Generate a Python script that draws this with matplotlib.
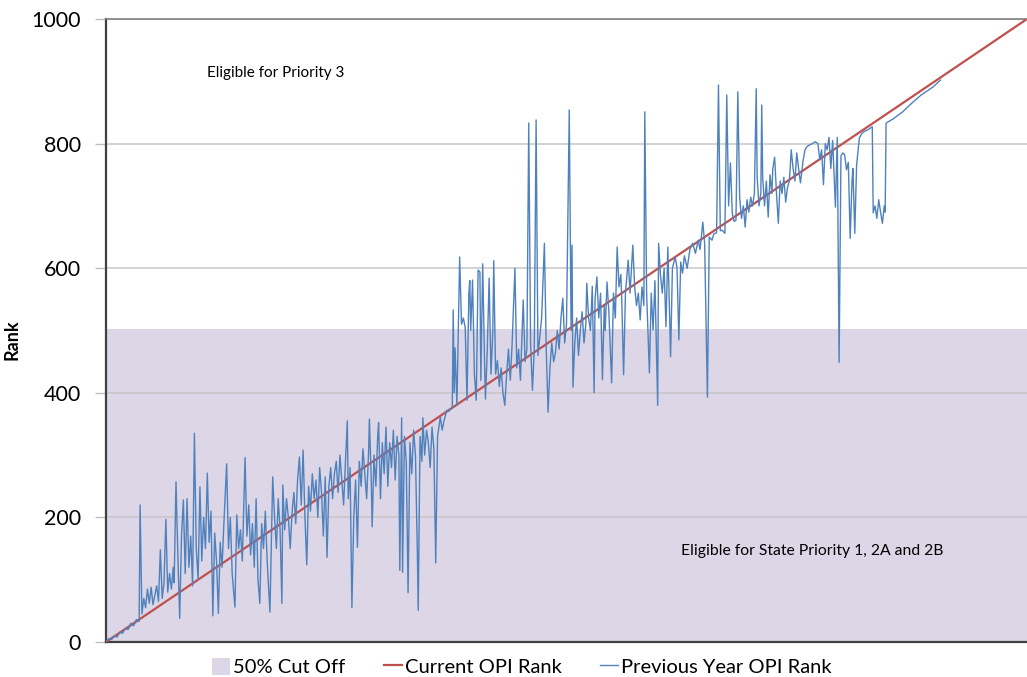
import matplotlib
matplotlib.use('Agg')
import matplotlib.pyplot as plt
from matplotlib.patches import Patch
from matplotlib.lines import Line2D

# 50% cut off level
cutoff_rank = 503
x_range = [0, 1000]

# current OPI rank (diagonal)
current_x = [0, 1000]
current_y = [0, 1000]

# previous year OPI rank (x = current rank)
prev_x = [0, 3, 6, 9, 12, 15, 18, 21, 24, 27, 30, 33, 36, 37, 39, 41, 43, 45, 47, 49,
          51, 53, 55, 57, 59, 61, 63, 65, 67, 69, 71, 73, 74, 76, 78, 80, 82, 84, 86, 88,
          90, 92, 94, 96, 98, 100, 102, 104, 106, 108, 110, 112, 114, 116, 118, 120, 122, 124, 126, 128,
          131, 133, 135, 137, 140, 142, 144, 146, 148, 151, 153, 155, 157, 159, 161, 163, 165, 167, 169, 171,
          173, 175, 178, 181, 183, 185, 187, 189, 191, 192, 194, 196, 198, 200, 202, 204, 206, 208, 210, 212,
          214, 216, 218, 220, 222, 224, 226, 228, 230, 232, 234, 236, 238, 240, 242, 244, 246, 248, 250, 252,
          254, 256, 258, 260, 262, 263, 265, 267, 269, 271, 273, 275, 277, 279, 281, 283, 285, 286, 288, 289,
          291, 293, 295, 296, 298, 300, 302, 304, 306, 308, 310, 312, 314, 316, 318, 319, 321, 322, 324, 326,
          328, 330, 332, 334, 336, 338, 339, 341, 343, 344, 346, 348, 350, 352, 354, 356, 358, 360, 363, 365,
          367, 370, 372, 374, 376, 377, 378, 379, 381, 384, 386, 388, 390, 392, 394, 395, 396, 398, 400, 402,
          404, 406, 407, 409, 411, 412, 414, 416, 418, 420, 421, 423, 425, 427, 429, 431, 433, 435, 437, 439,
          441, 444, 446, 448, 450, 453, 455, 457, 459, 461, 463, 465, 467, 469, 471, 473, 476, 478, 480, 482,
          484, 486, 488, 490, 492, 494, 496, 498, 500, 503, 505, 506, 507, 509, 511, 513, 515, 517, 519, 521,
          522, 524, 526, 528, 530, 531, 533, 535, 537, 539, 541, 542, 544, 546, 549, 551, 553, 555, 557, 559,
          560, 562, 564, 567, 569, 572, 574, 576, 578, 580, 582, 584, 585, 587, 590, 592, 594, 596, 599, 600,
          602, 604, 606, 608, 610, 611, 613, 615, 618, 620, 622, 624, 626, 628, 631, 634, 637, 640, 643, 645,
          648, 650, 653, 655, 658, 660, 663, 665, 667, 669, 672, 674, 676, 678, 680, 682, 684, 686, 688, 690,
          692, 694, 696, 698, 700, 702, 704, 706, 707, 709, 711, 712, 713, 715, 717, 719, 721, 723, 724, 726,
          728, 730, 732, 734, 736, 738, 740, 742, 744, 746, 748, 750, 752, 754, 757, 759, 761, 764, 767, 770,
          773, 775, 777, 779, 781, 783, 785, 787, 789, 792, 794, 796, 798, 800, 802, 804, 806, 808, 810, 811,
          813, 815, 818, 821, 824, 827, 830, 832, 833, 835, 837, 839, 841, 843, 845, 846, 847, 855, 865, 875,
          885, 898, 906]
prev_y = [2, 5, 4, 10, 8, 16, 14, 22, 20, 30, 26, 36, 33, 220, 45, 70, 55, 85, 62, 88,
          60, 75, 90, 65, 148, 70, 95, 197, 80, 110, 85, 120, 95, 257, 140, 38, 170, 228, 110, 230,
          120, 170, 90, 335, 150, 100, 249, 130, 200, 150, 271, 160, 210, 42, 175, 130, 46, 160, 120, 190,
          286, 150, 200, 110, 56, 204, 150, 180, 130, 296, 170, 220, 140, 190, 120, 230, 100, 62, 190, 150,
          210, 130, 48, 265, 200, 150, 230, 180, 62, 252, 180, 230, 200, 150, 207, 240, 190, 260, 297, 220,
          308, 200, 124, 250, 210, 270, 230, 260, 200, 280, 240, 170, 265, 136, 250, 280, 230, 270, 290, 240,
          300, 260, 220, 290, 355, 230, 280, 55, 200, 260, 152, 290, 250, 310, 270, 230, 300, 358, 260, 185,
          300, 250, 330, 352, 230, 320, 270, 345, 250, 320, 280, 340, 260, 330, 300, 115, 360, 112, 330, 290,
          79, 320, 270, 340, 300, 150, 51, 330, 290, 360, 300, 340, 320, 280, 345, 310, 127, 330, 361, 340,
          355, 372, 370, 374, 376, 533, 400, 472, 380, 618, 510, 520, 505, 388, 560, 580, 500, 581, 430, 388,
          597, 594, 420, 607, 450, 390, 470, 584, 430, 500, 612, 430, 452, 410, 440, 400, 380, 430, 470, 420,
          480, 600, 440, 470, 420, 549, 450, 470, 833, 480, 404, 470, 838, 460, 490, 520, 640, 470, 369, 440,
          480, 450, 464, 500, 470, 520, 552, 480, 510, 854, 500, 637, 409, 480, 520, 460, 500, 530, 480, 510,
          576, 520, 500, 571, 400, 550, 586, 520, 560, 421, 540, 500, 578, 530, 416, 560, 520, 634, 570, 590,
          550, 429, 560, 613, 560, 637, 570, 540, 560, 517, 570, 540, 851, 560, 432, 560, 501, 580, 380, 640,
          590, 560, 600, 506, 634, 580, 458, 600, 618, 600, 485, 610, 592, 620, 600, 630, 640, 624, 645, 630,
          674, 640, 393, 650, 645, 655, 657, 894, 660, 661, 656, 878, 700, 769, 688, 675, 677, 883, 714, 680,
          700, 666, 710, 690, 714, 700, 720, 888, 746, 700, 720, 862, 746, 700, 740, 682, 750, 720, 760, 778,
          720, 672, 740, 720, 746, 706, 730, 740, 790, 760, 740, 785, 760, 737, 774, 790, 795, 798, 800, 803,
          800, 774, 790, 734, 800, 790, 810, 760, 805, 698, 810, 449, 780, 785, 782, 758, 770, 648, 740, 760,
          656, 766, 809, 817, 820, 822, 825, 827, 689, 700, 680, 710, 690, 672, 700, 690, 833, 840, 851, 865,
          878, 891, 902]

y_ticks = [0, 200, 400, 600, 800, 1000]

fill_color = '#dcd6e6'
red = '#c0504d'
blue = '#4f81bd'
font = ['Lato', 'DejaVu Sans']
plt.rcParams['font.family'] = font

fig = plt.figure(figsize=(10.27, 6.77), dpi=100)
ax = fig.add_axes([106 / 1027, 35 / 677, 921 / 1027, 623 / 677])

ax.fill_between(x_range, [cutoff_rank, cutoff_rank], 0, color=fill_color,
                linewidth=0, zorder=1)
ax.plot(current_x, current_y, color=red, linewidth=1.6, zorder=3)
ax.plot(prev_x, prev_y, color=blue, linewidth=1.0, zorder=4)

ax.set_xlim(x_range)
ax.set_ylim(0, 1000)
ax.set_xticks([])
ax.set_yticks(y_ticks)
ax.tick_params(axis='y', length=8, width=1, color='#bfbfbf', labelsize=15.5,
               pad=10, labelcolor='#000000')
ax.set_axisbelow('line')
ax.yaxis.grid(True, color='#c6c6c6', linewidth=1.1)

ax.spines['right'].set_visible(False)
ax.spines['top'].set_color('#808080')
ax.spines['top'].set_linewidth(1.2)
ax.spines['left'].set_color('#404040')
ax.spines['left'].set_linewidth(1.6)
ax.spines['bottom'].set_color('#404040')
ax.spines['bottom'].set_linewidth(1.6)

ax.set_ylabel('Rank', fontsize=13, fontweight='bold')
ax.yaxis.set_label_coords(-0.093, 0.485)

ax.text(110, 913, 'Eligible for Priority 3', fontsize=11, va='center', ha='left')
ax.text(624, 146, 'Eligible for State Priority 1, 2A and 2B', fontsize=11.3,
        va='center', ha='left')

handles = [Patch(facecolor=fill_color, edgecolor='none'),
           Line2D([], [], color=red, linewidth=1.6),
           Line2D([], [], color=blue, linewidth=1.0)]
labels = ['50% Cut Off', 'Current OPI Rank', 'Previous Year OPI Rank']
fig.legend(handles, labels, loc='center', bbox_to_anchor=(522 / 1027, 1 - 667 / 677),
           ncol=3, frameon=False, fontsize=14.5, handlelength=0.9, handleheight=0.9,
           handletextpad=0.15, columnspacing=1.9, borderaxespad=0)

fig.savefig('out.png', dpi=100)
